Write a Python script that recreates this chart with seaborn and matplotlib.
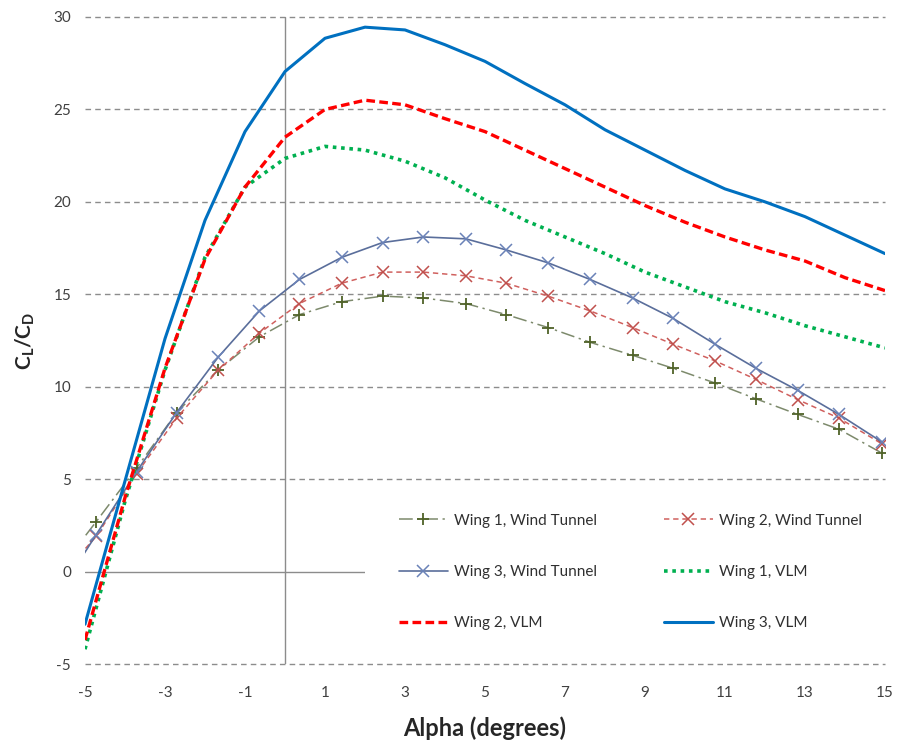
import matplotlib
matplotlib.use("Agg")
import matplotlib.pyplot as plt
import seaborn as sns
import pandas as pd

# ---- data ----
alpha_wt = [-5.75, -4.72, -3.71, -2.71, -1.67, -0.64, 0.36, 1.42, 2.44, 3.46, 4.52,
            5.53, 6.58, 7.63, 8.69, 9.70, 10.75, 11.77, 12.82, 13.85, 14.93]
wing1_wt = [-0.2, 2.7, 5.6, 8.6, 10.9, 12.7, 13.9, 14.6, 14.9, 14.8, 14.5,
            13.9, 13.2, 12.4, 11.7, 11.0, 10.2, 9.35, 8.5, 7.7, 6.4]
wing2_wt = [-0.6, 1.9, 5.3, 8.3, 10.9, 12.9, 14.5, 15.6, 16.2, 16.2, 16.0,
            15.6, 14.9, 14.1, 13.2, 12.3, 11.4, 10.4, 9.3, 8.3, 6.9]
wing3_wt = [-1.5, 2.0, 5.4, 8.6, 11.6, 14.1, 15.8, 17.0, 17.8, 18.1, 18.0,
            17.4, 16.7, 15.8, 14.8, 13.7, 12.3, 11.0, 9.8, 8.5, 7.0]

alpha_vlm = [-5, -4, -3, -2, -1, 0, 1, 2, 3, 4, 5, 6, 7, 8, 9, 10, 11, 12, 13, 14, 15]
wing1_vlm = [-4.2, 3.8, 10.9, 17.0, 20.8, 22.35, 23.0, 22.8, 22.2, 21.3, 20.1,
             19.0, 18.1, 17.2, 16.2, 15.4, 14.6, 14.0, 13.3, 12.7, 12.1]
wing2_vlm = [-3.7, 4.0, 11.0, 16.9, 20.8, 23.5, 25.0, 25.5, 25.25, 24.5, 23.8,
             22.8, 21.8, 20.8, 19.8, 18.9, 18.1, 17.4, 16.8, 15.9, 15.2]
wing3_vlm = [-2.85, 4.9, 12.6, 19.0, 23.8, 27.05, 28.85, 29.45, 29.3, 28.5, 27.6,
             26.4, 25.25, 23.9, 22.8, 21.7, 20.7, 20.0, 19.2, 18.2, 17.2]

x_ticks = [-5, -3, -1, 1, 3, 5, 7, 9, 11, 13, 15]
y_ticks = [-5, 0, 5, 10, 15, 20, 25, 30]
labels = ["Wing 1, Wind Tunnel", "Wing 2, Wind Tunnel", "Wing 3, Wind Tunnel",
          "Wing 1, VLM", "Wing 2, VLM", "Wing 3, VLM"]

# ---- style ----
sns.set_style("white")
plt.rcParams["font.family"] = ["Lato", "DejaVu Sans"]
plt.rcParams["mathtext.fontset"] = "custom"
plt.rcParams["mathtext.bf"] = "Lato:bold"
plt.rcParams["mathtext.rm"] = "Lato"

fig = plt.figure(figsize=(8.98, 7.48), dpi=100)
ax = fig.add_axes([85 / 898, 1 - 664 / 748, 800 / 898, 647 / 748])

df_wt = pd.DataFrame({"alpha": alpha_wt, "w1": wing1_wt, "w2": wing2_wt, "w3": wing3_wt})
df_vlm = pd.DataFrame({"alpha": alpha_vlm, "w1": wing1_vlm, "w2": wing2_vlm, "w3": wing3_vlm})

sns.lineplot(data=df_wt, x="alpha", y="w1", ax=ax, label=labels[0], color="#7D8A6C",
             linestyle=(0, (9, 3, 1.5, 3)), linewidth=1.1, marker="+", markersize=9,
             markeredgewidth=1.3, markeredgecolor="#4F6228", zorder=3)
sns.lineplot(data=df_wt, x="alpha", y="w2", ax=ax, label=labels[1], color="#D0605E",
             linestyle=(0, (3.5, 2.5)), linewidth=1.1, marker="x", markersize=8,
             markeredgewidth=1.1, markeredgecolor="#C0504D", zorder=3)
sns.lineplot(data=df_wt, x="alpha", y="w3", ax=ax, label=labels[2], color="#5A6E9B",
             linestyle="-", linewidth=1.2, marker="x", markersize=9,
             markeredgewidth=1.1, markeredgecolor="#6A82B8", zorder=3)
sns.lineplot(data=df_vlm, x="alpha", y="w1", ax=ax, label=labels[3], color="#00B050",
             linestyle=(0, (1, 1.3)), linewidth=2.6, zorder=4)
sns.lineplot(data=df_vlm, x="alpha", y="w2", ax=ax, label=labels[4], color="#FF0000",
             linestyle=(0, (2.6, 1.3)), linewidth=2.4, zorder=4)
sns.lineplot(data=df_vlm, x="alpha", y="w3", ax=ax, label=labels[5], color="#0070C0",
             linestyle="-", linewidth=2.2, zorder=4)

ax.set_xlim(-5, 15)
ax.set_ylim(-5, 30)
ax.set_xticks(x_ticks)
ax.set_yticks(y_ticks)
ax.set_xticklabels([str(t) for t in x_ticks])
ax.set_yticklabels([str(t) for t in y_ticks])
ax.tick_params(axis="both", length=0, labelsize=11, colors="#404040")
ax.tick_params(axis="x", pad=16)
ax.tick_params(axis="y", pad=10)
for s in ax.spines.values():
    s.set_visible(False)

# gridlines (dashed) except zero line
for yv in y_ticks:
    if yv != 0:
        ax.axhline(yv, color="#8C8C8C", linewidth=1.0, linestyle=(0, (4, 3)),
                   zorder=2, clip_on=False)
ax.axhline(0, color="#8C8C8C", linewidth=1.0, zorder=1)
ax.axvline(0, color="#8C8C8C", linewidth=1.0, zorder=2)

ax.set_xlabel("Alpha (degrees)", fontsize=17, fontweight="bold", labelpad=12)
ax.set_ylabel(r"$\mathbf{C_L/C_D}$", fontsize=15, labelpad=12)

handles, labs = ax.get_legend_handles_labels()
order = [0, 2, 4, 1, 3, 5]
leg = ax.legend([handles[i] for i in order], [labs[i] for i in order], ncol=2,
                loc="upper left", bbox_to_anchor=((365 - 85) / 800, (664 - 480) / 647),
                frameon=True, facecolor="white", edgecolor="none", framealpha=1,
                fontsize=11, handlelength=3.2, handletextpad=0.4, columnspacing=4.4,
                labelspacing=2.45, borderpad=2.2, borderaxespad=0)
leg.set_zorder(1.5)
for t in leg.get_texts():
    t.set_color("#303030")

fig.savefig("out.png", dpi=100)
